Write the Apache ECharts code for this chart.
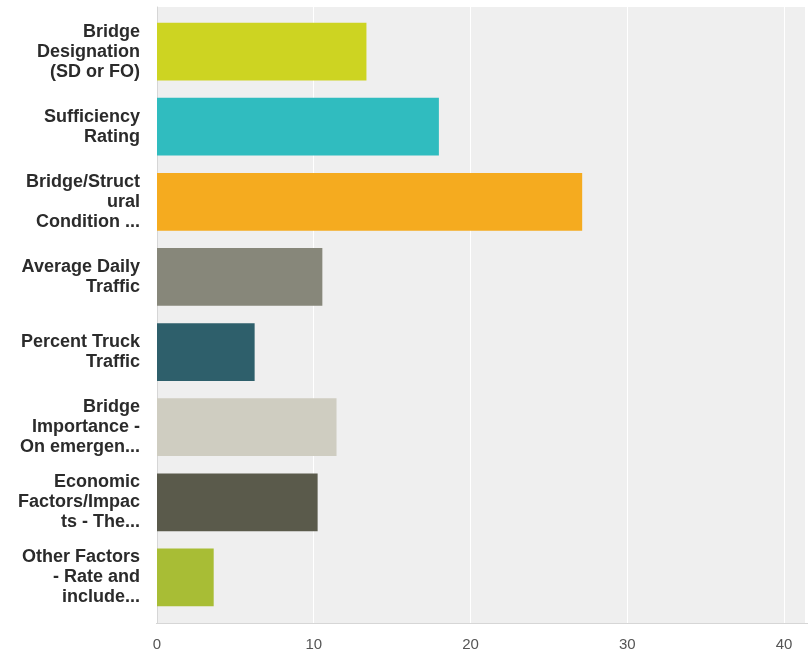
<!DOCTYPE html>
<html>
<head>
    <meta charset="utf-8">
    <title>Bridge Factors</title>
    <script src="https://cdn.jsdelivr.net/npm/echarts@6/dist/echarts.min.js"></script>
    <style>
        body { margin: 0; background: #fff; }
    </style>
</head>
<body>
    <div id="main" style="width: 808px;height:666px;"></div>
    <script type="text/javascript">
        // categories (top to bottom) and values
        var categories = [
            'Bridge\nDesignation\n(SD or FO)',
            'Sufficiency\nRating',
            'Bridge/Struct\nural\nCondition ...',
            'Average Daily\nTraffic',
            'Percent Truck\nTraffic',
            'Bridge\nImportance -\nOn emergen...',
            'Economic\nFactors/Impac\nts - The...',
            'Other Factors\n- Rate and\ninclude...'
        ];
        var values = [13.3, 17.9, 27.0, 10.5, 6.2, 11.4, 10.2, 3.6];
        var barColors = ['#cdd422', '#30bcbf', '#f5ab1f', '#87877a', '#2e5f6b', '#cfcdc1', '#5a5a4b', '#a8bd35'];
        var xTicks = [0, 10, 20, 30, 40];

        var myChart = echarts.init(document.getElementById('main'));

        var axisMax = 41.34;

        var option = {
            animation: false,
            grid: [
            {
                // background + vertical gridlines + tick labels
                left: 157,
                right: 0,
                top: 7,
                bottom: 43,
                show: true,
                backgroundColor: '#efefef',
                borderWidth: 0
            },
            {
                // bars, a bit inset from the top and bottom
                left: 157,
                right: 0,
                top: 14,
                bottom: 51
            }],
            xAxis: [
            {
                gridIndex: 0,
                type: 'value',
                min: 0,
                max: axisMax,
                interval: 10,
                axisLine: { show: false },
                axisTick: { show: false },
                splitLine: { lineStyle: { color: '#ffffff', width: 1 } },
                axisLabel:
                {
                    margin: 14,
                    color: '#555',
                    fontFamily: 'Liberation Sans, Arial',
                    fontSize: 15,
                    formatter: function (v) { return xTicks.indexOf(v) >= 0 ? String(v) : ''; }
                }
            },
            {
                gridIndex: 1,
                type: 'value',
                min: 0,
                max: axisMax,
                show: false
            }],
            yAxis: [
            {
                gridIndex: 0,
                type: 'category',
                data: [''],
                axisLine: { show: true, lineStyle: { color: '#d6d6d6' } },
                axisTick: { show: false },
                axisLabel: { show: false }
            },
            {
                gridIndex: 1,
                type: 'category',
                inverse: true,
                data: categories,
                axisLine: { show: false },
                axisTick: { show: false },
                axisLabel:
                {
                    margin: 17,
                    color: '#2b2b2b',
                    fontFamily: 'Liberation Sans, Arial',
                    fontWeight: 'bold',
                    fontSize: 18,
                    lineHeight: 20,
                    align: 'right'
                }
            }],
            series: [
            {
                type: 'bar',
                xAxisIndex: 1,
                yAxisIndex: 1,
                barCategoryGap: '23%',
                data: values.map(function (v, i) {
                    return { value: v, itemStyle: { color: barColors[i] } };
                })
            }],
            graphic: [
            {
                type: 'line',
                shape: { x1: 156, y1: 623.5, x2: 808, y2: 623.5 },
                style: { stroke: '#d6d6d6', lineWidth: 1 }
            }]
        };
        myChart.setOption(option);
    </script>
</body>
</html>
